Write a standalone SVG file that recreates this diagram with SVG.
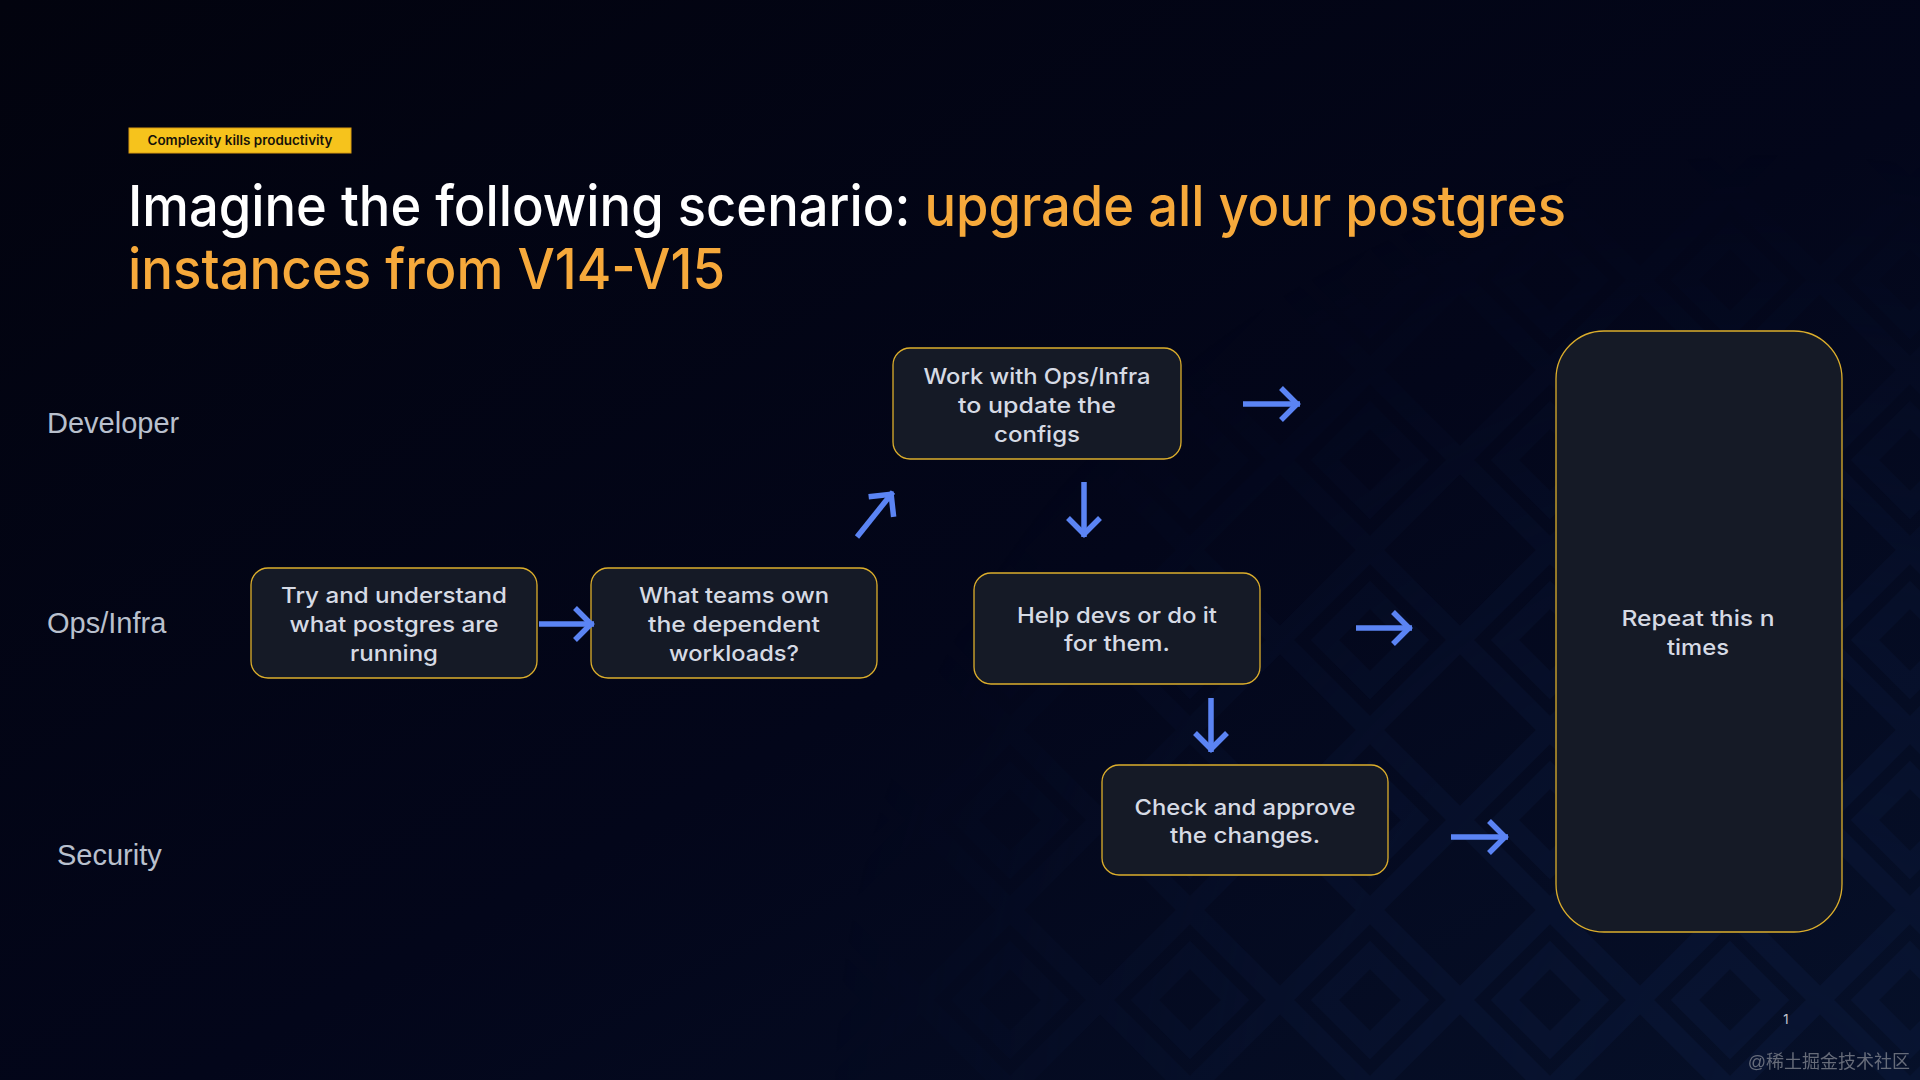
<svg xmlns="http://www.w3.org/2000/svg" width="1920" height="1080" viewBox="0 0 1920 1080">
  <defs>
    <style>
      .box{fill:#151a26;stroke:#dcae2c;stroke-width:1.3}
      .bt{font-family:Inter,"Liberation Sans",sans-serif;font-size:22px;font-weight:500;fill:#d6dae4;text-anchor:middle}
      .lane{font-family:"Liberation Sans",Arial,sans-serif;font-size:29px;fill:#b9c0cd}
      .title{font-family:Inter,"Liberation Sans",sans-serif;font-size:56px;font-weight:500}
      .arr{fill:none;stroke:#5b84f4;stroke-width:5.5;marker-end:url(#ah)}
    </style>
    <marker id="ah" markerUnits="userSpaceOnUse" viewBox="-30 -25 40 50" markerWidth="40" markerHeight="50" refX="0" refY="0" orient="auto" overflow="visible">
      <path d="M-19,-16 L-3,0 L-19,16" fill="none" stroke="#5b84f4" stroke-width="5.5"/>
    </marker>
    <linearGradient id="bg" x1="0" y1="0" x2="1" y2="1">
      <stop offset="0" stop-color="#02030e"/>
      <stop offset="0.55" stop-color="#03061a"/>
      <stop offset="1" stop-color="#061029"/>
    </linearGradient>
    <pattern id="maze" patternUnits="userSpaceOnUse" width="180" height="180" patternTransform="translate(20,10)">
      <path d="M90,0 L180,90 L90,180 L0,90 Z M90,45 L135,90 L90,135 L45,90 Z" fill="none" stroke="#0b1839" stroke-width="20"/>
    </pattern>
    <radialGradient id="fade" cx="1780" cy="1100" r="950" gradientUnits="userSpaceOnUse">
      <stop offset="0" stop-color="#fff" stop-opacity="1"/>
      <stop offset="0.5" stop-color="#fff" stop-opacity="0.6"/>
      <stop offset="1" stop-color="#fff" stop-opacity="0"/>
    </radialGradient>
    <mask id="m">
      <rect width="1920" height="1080" fill="url(#fade)"/>
    </mask>
  </defs>

  <rect width="1920" height="1080" fill="url(#bg)"/>
  <rect width="1920" height="1080" fill="url(#maze)" mask="url(#m)" opacity="0.6"/>

  <g id="tag">
    <rect x="129" y="128" width="222" height="25" fill="#f6c31c" stroke="#d89a12" stroke-width="1"/>
    <text x="240" y="145" text-anchor="middle" font-family="Inter,'Liberation Sans',sans-serif" font-size="13" font-weight="600" fill="#15120a" textLength="185" lengthAdjust="spacingAndGlyphs">Complexity kills productivity</text>
  </g>

  <g id="title">
    <text class="title" x="128" y="226" textLength="1438" lengthAdjust="spacingAndGlyphs"><tspan fill="#ffffff">Imagine the following scenario: </tspan><tspan fill="#f6a93b">upgrade all your postgres</tspan></text>
    <text class="title" x="128" y="289" fill="#f6a93b" textLength="597" lengthAdjust="spacingAndGlyphs">instances from V14-V15</text>
  </g>

  <g id="lanes">
    <text class="lane" x="47" y="433">Developer</text>
    <text class="lane" x="47" y="633">Ops/Infra</text>
    <text class="lane" x="57" y="865">Security</text>
  </g>

  <g id="n1">
    <rect class="box" x="251" y="568" width="286" height="110" rx="17"/>
    <text class="bt" x="394" y="603" textLength="226" lengthAdjust="spacingAndGlyphs">Try and understand</text>
    <text class="bt" x="394" y="632" textLength="209" lengthAdjust="spacingAndGlyphs">what postgres are</text>
    <text class="bt" x="394" y="661" textLength="88" lengthAdjust="spacingAndGlyphs">running</text>
  </g>

  <g id="n2">
    <rect class="box" x="591" y="568" width="286" height="110" rx="17"/>
    <text class="bt" x="734" y="603" textLength="190" lengthAdjust="spacingAndGlyphs">What teams own</text>
    <text class="bt" x="734" y="632" textLength="172" lengthAdjust="spacingAndGlyphs">the dependent</text>
    <text class="bt" x="734" y="661" textLength="130" lengthAdjust="spacingAndGlyphs">workloads?</text>
  </g>

  <g id="n3">
    <rect class="box" x="893" y="348" width="288" height="111" rx="17"/>
    <text class="bt" x="1037" y="384" textLength="227" lengthAdjust="spacingAndGlyphs">Work with Ops/Infra</text>
    <text class="bt" x="1037" y="413" textLength="158" lengthAdjust="spacingAndGlyphs">to update the</text>
    <text class="bt" x="1037" y="442" textLength="86" lengthAdjust="spacingAndGlyphs">configs</text>
  </g>

  <g id="n4">
    <rect class="box" x="974" y="573" width="286" height="111" rx="17"/>
    <text class="bt" x="1117" y="623" textLength="200" lengthAdjust="spacingAndGlyphs">Help devs or do it</text>
    <text class="bt" x="1117" y="651" textLength="106" lengthAdjust="spacingAndGlyphs">for them.</text>
  </g>

  <g id="n5">
    <rect class="box" x="1102" y="765" width="286" height="110" rx="17"/>
    <text class="bt" x="1245" y="815" textLength="221" lengthAdjust="spacingAndGlyphs">Check and approve</text>
    <text class="bt" x="1245" y="843" textLength="150" lengthAdjust="spacingAndGlyphs">the changes.</text>
  </g>

  <g id="n6">
    <rect class="box" x="1556" y="331" width="286" height="601" rx="48"/>
    <text class="bt" x="1698" y="626" textLength="153" lengthAdjust="spacingAndGlyphs">Repeat this n</text>
    <text class="bt" x="1698" y="655" textLength="62" lengthAdjust="spacingAndGlyphs">times</text>
  </g>

  <g id="connectors">
    <path class="arr" d="M539,624 L594,624"/>
    <path class="arr" d="M857,537 L893,492"/>
    <path class="arr" d="M1243,404 L1300,404"/>
    <path class="arr" d="M1084,482 L1084,537"/>
    <path class="arr" d="M1356,628 L1412,628"/>
    <path class="arr" d="M1211,698 L1211,752"/>
    <path class="arr" d="M1451,837 L1508,837"/>
  </g>

  <text x="1786" y="1024" text-anchor="middle" font-family="Inter,'Liberation Sans',sans-serif" font-size="13" fill="#c4c8d2">1</text>
  <text x="1910" y="1068" text-anchor="end" font-family="'Liberation Sans','Noto Sans CJK SC',sans-serif" font-size="18" fill="#7e828d" opacity="0.8">@稀土掘金技术社区</text>
</svg>
